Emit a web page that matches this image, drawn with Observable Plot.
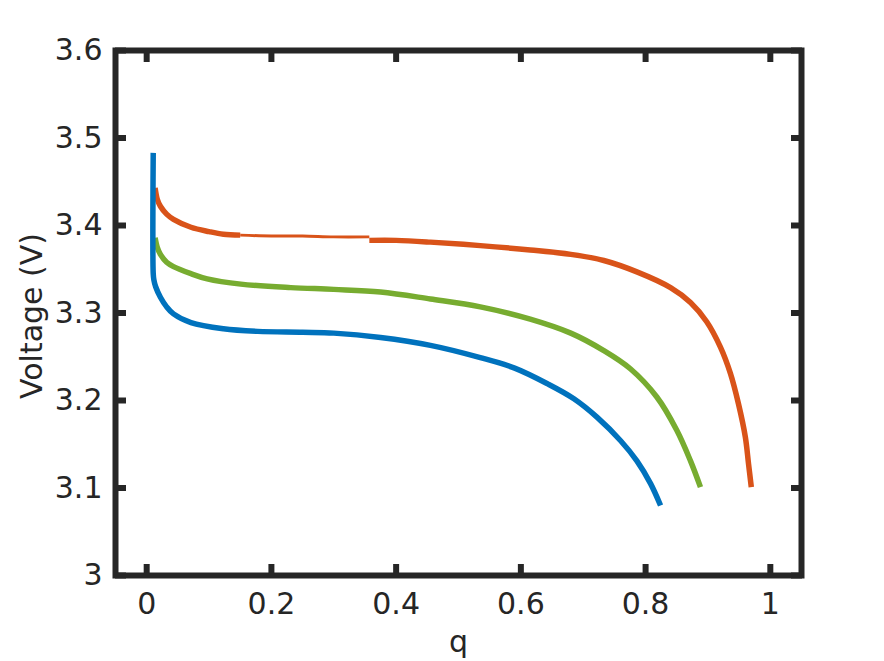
<!DOCTYPE html>
<html><head><meta charset="utf-8">
<script src="https://cdn.jsdelivr.net/npm/d3@7"></script>
<script src="https://cdn.jsdelivr.net/npm/@observablehq/plot@0.6"></script>
<style>html,body{margin:0;padding:0;background:#fff;} svg{display:block}</style>
</head><body><div id="chart"></div>
<script>
// Blue series
const blueQ = [0.0105, 0.0105, 0.0115, 0.0144, 0.022, 0.032, 0.043, 0.071, 0.123, 0.178, 0.25, 0.30, 0.375, 0.455, 0.535, 0.59, 0.643, 0.685, 0.722, 0.76, 0.786, 0.808, 0.824];
const blueV = [3.483, 3.345, 3.338, 3.330, 3.318, 3.307, 3.299, 3.289, 3.282, 3.279, 3.278, 3.277, 3.272, 3.263, 3.249, 3.237, 3.219, 3.202, 3.181, 3.154, 3.131, 3.105, 3.080];
// Green series
const greenQ = [0.0135, 0.017, 0.022, 0.032, 0.043, 0.071, 0.097, 0.151, 0.231, 0.30, 0.375, 0.455, 0.535, 0.615, 0.68, 0.733, 0.776, 0.818, 0.85, 0.872, 0.888];
const greenV = [3.386, 3.375, 3.367, 3.358, 3.353, 3.345, 3.339, 3.333, 3.329, 3.327, 3.324, 3.316, 3.307, 3.293, 3.277, 3.257, 3.236, 3.204, 3.166, 3.131, 3.101];
// Orange series (three drawn pieces)
const orangeStartQ = [0.0135, 0.017, 0.022, 0.032, 0.043, 0.071, 0.10, 0.123, 0.15];
const orangeStartV = [3.443, 3.430, 3.422, 3.413, 3.407, 3.398, 3.393, 3.390, 3.389];
const orangeFlatQ = [0.15, 0.2, 0.25, 0.30, 0.357];
const orangeFlatV = [3.389, 3.388, 3.388, 3.387, 3.387];
const orangeEndQ = [0.357, 0.40, 0.455, 0.535, 0.615, 0.68, 0.733, 0.786, 0.84, 0.872, 0.898, 0.92, 0.936, 0.949, 0.96, 0.965, 0.9695];
const orangeEndV = [3.383, 3.383, 3.381, 3.377, 3.372, 3.367, 3.360, 3.347, 3.329, 3.312, 3.290, 3.261, 3.231, 3.196, 3.158, 3.128, 3.101];

const xTicks = [0, 0.2, 0.4, 0.6, 0.8, 1];
const xTickLabels = ["0", "0.2", "0.4", "0.6", "0.8", "1"];
const yTicks = [3, 3.1, 3.2, 3.3, 3.4, 3.5, 3.6];
const yTickLabels = ["3", "3.1", "3.2", "3.3", "3.4", "3.5", "3.6"];
const xLabel = "q";
const yLabel = "Voltage (V)";

const pts = (qs, vs) => qs.map((q, i) => ({q, v: vs[i]}));
const ink = "#262626";
const F = 30;
const lineOpts = (color, w) => ({x: "q", y: "v", stroke: color, strokeWidth: w, strokeLinecap: "butt", curve: "catmull-rom"});

const chart = Plot.plot({
  width: 884, height: 661,
  marginLeft: 115, marginRight: 83, marginTop: 50, marginBottom: 86,
  style: {fontFamily: "DejaVu Sans", fontSize: F + "px", color: ink, background: "#fff", overflow: "visible"},
  x: {domain: [-0.05, 1.05]},
  y: {domain: [3, 3.6]},
  marks: [
    Plot.line(pts(orangeStartQ, orangeStartV), lineOpts("#D95319", 5.5)),
    Plot.line(pts(orangeFlatQ, orangeFlatV), lineOpts("#D95319", 3)),
    Plot.line(pts(orangeEndQ, orangeEndV), lineOpts("#D95319", 5.5)),
    Plot.line(pts(greenQ, greenV), lineOpts("#77AC30", 5.5)),
    Plot.line(pts(blueQ, blueV), lineOpts("#0072BD", 5.5)),
    Plot.frame({stroke: ink, strokeWidth: 6}),
    // inward tick marks on all four sides
    Plot.axisX(xTicks, {anchor: "bottom", tickSize: 11, dy: -11, strokeWidth: 6, strokeLinecap: "butt", tickFormat: () => "", label: null}),
    Plot.axisX(xTicks, {anchor: "top", tickSize: 11, dy: 11, strokeWidth: 6, strokeLinecap: "butt", tickFormat: () => "", label: null}),
    Plot.axisY(yTicks, {anchor: "left", tickSize: 11, dx: 11, strokeWidth: 6, strokeLinecap: "butt", tickFormat: () => "", label: null}),
    Plot.axisY(yTicks, {anchor: "right", tickSize: 11, dx: -11, strokeWidth: 6, strokeLinecap: "butt", tickFormat: () => "", label: null}),
    // tick labels
    Plot.axisX(xTicks, {anchor: "bottom", tickSize: 0, tickPadding: 17, fontSize: F, fill: ink, tickFormat: d => xTickLabels[xTicks.indexOf(d)], label: null}),
    Plot.axisY(yTicks, {anchor: "left", tickSize: 0, tickPadding: 13, fontSize: F, fill: ink, tickFormat: d => yTickLabels[yTicks.indexOf(d)], label: null}),
    // axis titles
    Plot.text([xLabel], {frameAnchor: "bottom", text: d => d, dy: 76, fontSize: F, fill: ink}),
    Plot.text([yLabel], {frameAnchor: "left", textAnchor: "middle", text: d => d, rotate: -90, dx: -83, dy: 3, fontSize: F, fill: ink})
  ]
});
document.getElementById("chart").appendChild(chart);
</script>
</body></html>
